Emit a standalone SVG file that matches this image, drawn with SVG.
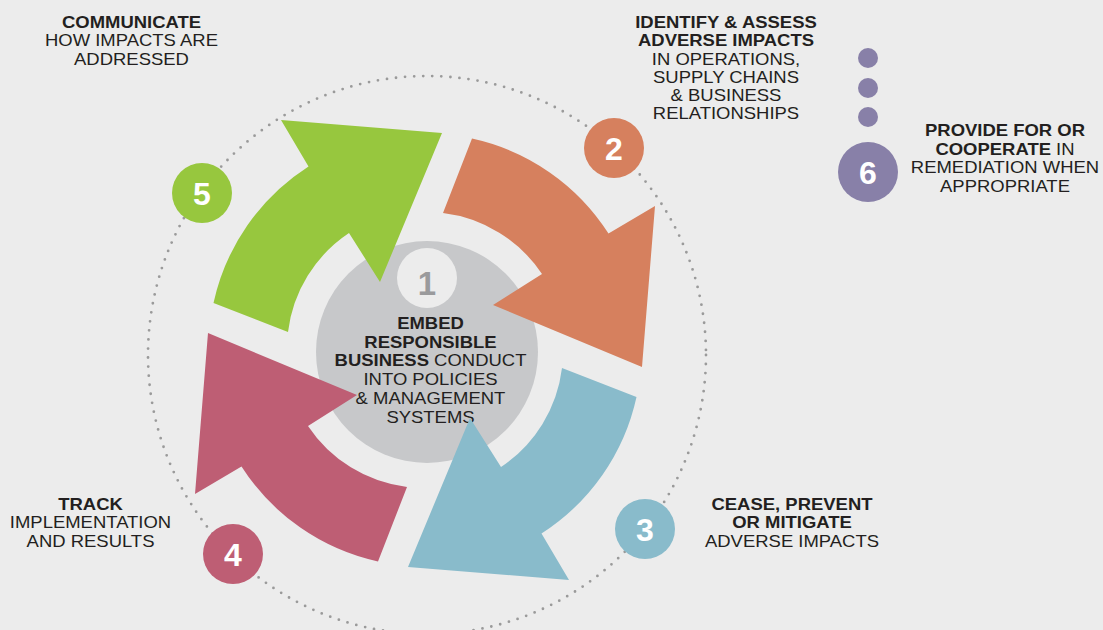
<svg xmlns="http://www.w3.org/2000/svg" width="1103" height="630" viewBox="0 0 1103 630">
<style>
.t{font-family:"Liberation Sans",Arial,sans-serif;font-size:16.5px;fill:#231f20;text-anchor:middle}
.b{font-weight:bold}
.num{font-family:"Liberation Sans",Arial,sans-serif;font-size:32px;font-weight:bold;fill:#ffffff;text-anchor:middle}
.dots{fill:none;stroke:#9a9a9a;stroke-width:2.8;stroke-linecap:round;stroke-dasharray:0 9.1}
</style>
<defs>
<path id="arw" d="M -211.5,-47 A 217 217 0 0 1 -116.5,-183.5 L -144,-230 L 17,-217 L -45,-68 L -76,-117 A 139 139 0 0 0 -137,-18 Z"/>
</defs>
<rect x="0" y="0" width="1103" height="630" fill="#ececec"/>
<g id="ring"><circle class="dots" cx="427" cy="355" r="279"/></g>
<g id="node1">
<circle cx="427" cy="352" r="111" fill="#c7c8ca"/>
<circle cx="427" cy="278" r="30" fill="#ececec"/>
<text x="427" y="295" font-family="Liberation Sans,Arial,sans-serif" font-size="33" font-weight="bold" fill="#9a9a9c" text-anchor="middle">1</text>
<g transform="translate(430.5 0) scale(1.12 1)">
<text class="t b" x="0" y="329">EMBED</text>
<text class="t b" x="0" y="348">RESPONSIBLE</text>
<text class="t" x="0" y="366.5"><tspan class="b">BUSINESS</tspan> CONDUCT</text>
<text class="t" x="0" y="385.5">INTO POLICIES</text>
<text class="t" x="0" y="404.5">&amp; MANAGEMENT</text>
<text class="t" x="0" y="423">SYSTEMS</text>
</g>
</g>
<g id="connectors">
<use href="#arw" fill="#97c73e" transform="translate(425 350)"/>
<use href="#arw" fill="#d6805e" transform="translate(425 350) rotate(90)"/>
<use href="#arw" fill="#89bbcb" transform="translate(425 350) rotate(180)"/>
<use href="#arw" fill="#be5e74" transform="translate(425 350) rotate(270)"/>
</g>
<g id="node2">
<circle cx="614" cy="148" r="30" fill="#d6805e"/>
<text class="num" x="614" y="159.5">2</text>
<g transform="translate(726 0) scale(1.12 1)">
<text class="t b" x="0" y="27.7">IDENTIFY &amp; ASSESS</text>
<text class="t b" x="0" y="46.2">ADVERSE IMPACTS</text>
<text class="t" x="0" y="64.6">IN OPERATIONS,</text>
<text class="t" x="0" y="83">SUPPLY CHAINS</text>
<text class="t" x="0" y="101.3">&amp; BUSINESS</text>
<text class="t" x="0" y="119.5">RELATIONSHIPS</text>
</g>
</g>
<g id="node3">
<circle cx="645" cy="529" r="30" fill="#89bbcb"/>
<text class="num" x="645" y="540.5">3</text>
<g transform="translate(792 0) scale(1.12 1)">
<text class="t b" x="0" y="510">CEASE, PREVENT</text>
<text class="t b" x="0" y="528.3">OR MITIGATE</text>
<text class="t" x="0" y="546.7">ADVERSE IMPACTS</text>
</g>
</g>
<g id="node4">
<circle cx="233" cy="554" r="30" fill="#be5e74"/>
<text class="num" x="233" y="565.5">4</text>
<g transform="translate(90.5 0) scale(1.12 1)">
<text class="t b" x="0" y="510">TRACK</text>
<text class="t" x="0" y="528.3">IMPLEMENTATION</text>
<text class="t" x="0" y="546.7">AND RESULTS</text>
</g>
</g>
<g id="node5">
<circle cx="202" cy="193" r="30" fill="#97c73e"/>
<text class="num" x="202" y="204.5">5</text>
<g transform="translate(131.5 0) scale(1.12 1)">
<text class="t b" x="0" y="28">COMMUNICATE</text>
<text class="t" x="0" y="46.5">HOW IMPACTS ARE</text>
<text class="t" x="0" y="65">ADDRESSED</text>
</g>
</g>
<g id="node6">
<circle cx="868" cy="58" r="10" fill="#8880a8"/>
<circle cx="868" cy="88" r="10" fill="#8880a8"/>
<circle cx="868" cy="117" r="10" fill="#8880a8"/>
<circle cx="868" cy="172" r="30" fill="#8880a8"/>
<text class="num" x="868" y="183.5">6</text>
<g transform="translate(1005 0) scale(1.12 1)">
<text class="t b" x="0" y="136.5">PROVIDE FOR OR</text>
<text class="t" x="0" y="155"><tspan class="b">COOPERATE</tspan> IN</text>
<text class="t" x="0" y="173.3">REMEDIATION WHEN</text>
<text class="t" x="0" y="191.7">APPROPRIATE</text>
</g>
</g>
</svg>
